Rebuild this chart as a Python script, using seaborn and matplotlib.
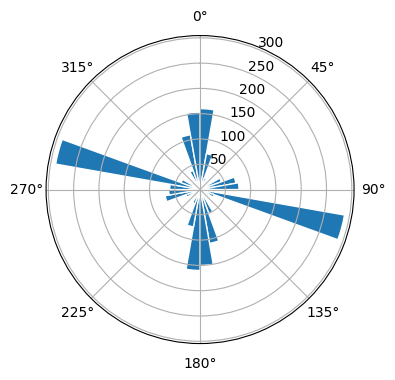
import numpy as np
import pandas as pd
import matplotlib
matplotlib.use("Agg")
import matplotlib.pyplot as plt
import seaborn as sns

# Direction bins (degrees, start of each 10° bin) and counts
bin_start_deg = list(range(0, 360, 10))
counts = [160, 72, 25, 20, 15, 20, 45, 72, 77, 30,
          290, 30, 20, 15, 20, 50, 108, 150, 160, 75,
          30, 20, 15, 20, 30, 70, 62, 60, 290, 40,
          20, 15, 20, 40, 110, 153]

df = pd.DataFrame({
    "theta": np.deg2rad(np.array(bin_start_deg) + 5.0),
    "count": counts,
})

fig = plt.figure(figsize=(4, 4), dpi=100)
ax = fig.add_subplot(111, projection="polar")
ax.set_theta_zero_location("N")
ax.set_theta_direction(-1)

sns.barplot(data=df, x="theta", y="count", native_scale=True, width=1.0,
            color="#1f77b4", saturation=1, errorbar=None,
            edgecolor="white", linewidth=1, ax=ax)
ax.set_xlabel("")
ax.set_ylabel("")
ax.set_xlim(0, 2 * np.pi)
ax.set_xticks(np.deg2rad(np.arange(0, 360, 45)))
ax.set_xticklabels([f"{d}°" for d in range(0, 360, 45)])
ax.grid(True)

fig.savefig("out.png", dpi=100, bbox_inches="tight")
